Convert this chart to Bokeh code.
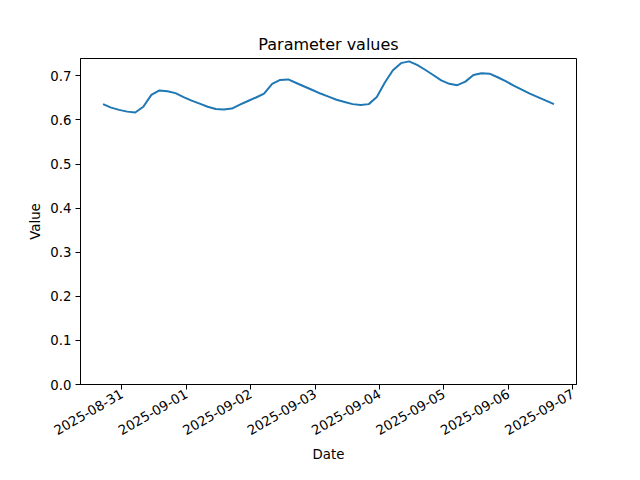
import datetime as dt
import math
from bokeh.plotting import figure
from bokeh.models import (Range1d, FixedTicker, DatetimeTickFormatter,
                          NumeralTickFormatter, ColumnDataSource)
from bokeh.embed import file_html
from bokeh.resources import INLINE

# ---- data (3-hourly samples) ----
start_time = dt.datetime(2025, 8, 30, 17)
step_hours = 3
values = [
    0.636, 0.628, 0.623, 0.619, 0.617, 0.630, 0.657, 0.667, 0.665, 0.661,
    0.652, 0.644, 0.637, 0.630, 0.625, 0.624, 0.626, 0.635, 0.643, 0.651,
    0.660, 0.682, 0.691, 0.692, 0.684, 0.676, 0.668, 0.660, 0.653, 0.646,
    0.641, 0.636, 0.634, 0.636, 0.652, 0.685, 0.713, 0.729, 0.733, 0.725,
    0.714, 0.702, 0.690, 0.682, 0.679, 0.687, 0.702, 0.706, 0.705, 0.697,
    0.688, 0.678, 0.669, 0.660, 0.652, 0.644, 0.636,
]
times = [start_time + dt.timedelta(hours=step_hours * i) for i in range(len(values))]
tick_dates = [dt.datetime(2025, 8, 31) + dt.timedelta(days=d) for d in range(8)]
y_ticks = [0.0, 0.1, 0.2, 0.3, 0.4, 0.5, 0.6, 0.7]
title_text = "Parameter values"
x_label = "Date"
y_label = "Value"

EPOCH = dt.datetime(1970, 1, 1)
def ms(d):
    return (d - EPOCH).total_seconds() * 1000.0

span = times[-1] - times[0]
x_start = times[0] - span * 0.05
x_end = times[-1] + span * 0.05

source = ColumnDataSource(dict(t=times, v=values))

FONT = "DejaVu Sans"

p = figure(width=624, height=464, output_backend="svg", toolbar_location=None,
           x_axis_type="datetime",
           x_range=Range1d(x_start, x_end), y_range=Range1d(0, 0.7395),
           min_border_left=80, min_border_right=48, min_border_top=58,
           min_border_bottom=80, title=title_text)

p.line("t", "v", source=source, line_color="#1f77b4", line_width=2)

p.title.align = "center"
p.title.text_font = FONT
p.title.text_font_size = "16px"
p.title.text_font_style = "normal"
p.title.text_color = "black"
p.title.standoff = 10

p.grid.visible = False
p.outline_line_color = "black"
p.outline_line_width = 1
p.outline_line_alpha = 1
p.background_fill_color = "white"
p.border_fill_color = "white"

p.xaxis.ticker = FixedTicker(ticks=[ms(d) for d in tick_dates])
p.xaxis.formatter = DatetimeTickFormatter(days="%Y-%m-%d", months="%Y-%m-%d",
                                          hours="%Y-%m-%d", years="%Y-%m-%d")
p.xaxis.major_label_orientation = math.pi / 6
p.yaxis.ticker = FixedTicker(ticks=y_ticks)
p.yaxis.formatter = NumeralTickFormatter(format="0.0")

for ax in (p.xaxis, p.yaxis):
    ax.axis_line_color = "black"
    ax.axis_line_width = 1
    ax.major_tick_line_color = "black"
    ax.major_tick_out = 5
    ax.major_tick_in = 0
    ax.minor_tick_line_color = None
    ax.major_label_text_font = FONT
    ax.major_label_text_font_size = "13.3px"
    ax.major_label_text_color = "black"
    ax.axis_label_text_font = FONT
    ax.axis_label_text_font_size = "13.3px"
    ax.axis_label_text_font_style = "normal"
    ax.axis_label_text_color = "black"
    ax.major_label_standoff = 4

p.xaxis.major_label_standoff = 3
p.xaxis.axis_label = x_label
p.yaxis.axis_label = y_label
p.xaxis.axis_label_standoff = 4
p.yaxis.axis_label_standoff = 4

open("out.html", "w").write(file_html(p, INLINE))
